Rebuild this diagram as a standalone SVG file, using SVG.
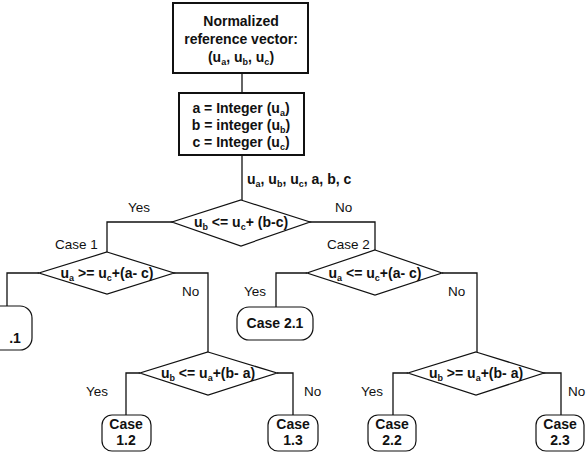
<svg xmlns="http://www.w3.org/2000/svg" width="587" height="456" viewBox="0 0 587 456">
<style>
.t{font-family:"Liberation Sans",Arial,sans-serif;font-size:14px;fill:#111}
.l{font-size:13.5px}
.b{font-weight:bold}
.s{font-size:9px}
.box{fill:#fff;stroke:#111;stroke-width:2}
.dia{fill:#fff;stroke:#111;stroke-width:1.2}
.term{fill:#fff;stroke:#111;stroke-width:1.2}
.c{fill:none;stroke:#111;stroke-width:1.3}
</style>
<rect width="587" height="456" fill="#fff"/>
<g id="connectors">
<path class="c" d="M242,73V93"/>
<path class="c" d="M242,155V200"/>
<path class="c" d="M173,222H107V252"/>
<path class="c" d="M309,222H375V250"/>
<path class="c" d="M39,273H7V306"/>
<path class="c" d="M173,273H208V352"/>
<path class="c" d="M307,273H276V307"/>
<path class="c" d="M442,273H477V352"/>
<path class="c" d="M140,373H126V415"/>
<path class="c" d="M277,373H293V415"/>
<path class="c" d="M408,373H393V415"/>
<path class="c" d="M543,373H561V415"/>
<text class="t b" x="247" y="184">u<tspan class="s" dy="3">a</tspan><tspan dy="-3">, u</tspan><tspan class="s" dy="3">b</tspan><tspan dy="-3">, u</tspan><tspan class="s" dy="3">c</tspan><tspan dy="-3">, a, b, c</tspan></text>
<text class="t l" x="128" y="212">Yes</text>
<text class="t l" x="335" y="212">No</text>
<text class="t l" x="55" y="249">Case 1</text>
<text class="t l" x="327" y="249">Case 2</text>
<text class="t l" x="182" y="296">No</text>
<text class="t l" x="244" y="296">Yes</text>
<text class="t l" x="448" y="296">No</text>
<text class="t l" x="86" y="396">Yes</text>
<text class="t l" x="304" y="396">No</text>
<text class="t l" x="361" y="396">Yes</text>
<text class="t l" x="568" y="396">No</text>
</g>
<g id="n-input">
<rect class="box" x="173" y="3" width="135" height="70" stroke-width="2.5"/>
<text class="t b" x="241" y="26" text-anchor="middle">Normalized</text>
<text class="t b" x="241" y="44" text-anchor="middle">reference vector:</text>
<text class="t b" x="241" y="62" text-anchor="middle">(u<tspan class="s" dy="3">a</tspan><tspan dy="-3">, u</tspan><tspan class="s" dy="3">b</tspan><tspan dy="-3">, u</tspan><tspan class="s" dy="3">c</tspan><tspan dy="-3">)</tspan></text>
</g>
<g id="n-integer">
<rect class="box" x="179" y="93" width="125" height="62"/>
<text class="t b" x="241" y="113" text-anchor="middle">a = Integer (u<tspan class="s" dy="3">a</tspan><tspan dy="-3">)</tspan></text>
<text class="t b" x="241" y="130" text-anchor="middle">b = integer (u<tspan class="s" dy="3">b</tspan><tspan dy="-3">)</tspan></text>
<text class="t b" x="241" y="147" text-anchor="middle">c = Integer (u<tspan class="s" dy="3">c</tspan><tspan dy="-3">)</tspan></text>
</g>
<g id="d1">
<polygon class="dia" points="241,200 310,222 241,246 172,222"/>
<text class="t b" x="241" y="227" text-anchor="middle">u<tspan class="s" dy="3">b</tspan><tspan dy="-3"> &lt;= u</tspan><tspan class="s" dy="3">c</tspan><tspan dy="-3">+ (b-c)</tspan></text>
</g>
<g id="d2">
<polygon class="dia" points="107,252 174,273 107,294 39,273"/>
<text class="t b" x="107" y="278" text-anchor="middle">u<tspan class="s" dy="3">a</tspan><tspan dy="-3"> &gt;= u</tspan><tspan class="s" dy="3">c</tspan><tspan dy="-3">+(a- c)</tspan></text>
</g>
<g id="d3">
<polygon class="dia" points="375,250 442,273 375,295 307,273"/>
<text class="t b" x="375" y="278" text-anchor="middle">u<tspan class="s" dy="3">a</tspan><tspan dy="-3"> &lt;= u</tspan><tspan class="s" dy="3">c</tspan><tspan dy="-3">+(a- c)</tspan></text>
</g>
<g id="d4">
<polygon class="dia" points="208,352 277,373 208,395 140,373"/>
<text class="t b" x="208" y="378" text-anchor="middle">u<tspan class="s" dy="3">b</tspan><tspan dy="-3"> &lt;= u</tspan><tspan class="s" dy="3">a</tspan><tspan dy="-3">+(b- a)</tspan></text>
</g>
<g id="d5">
<polygon class="dia" points="476,352 544,373 476,395 408,373"/>
<text class="t b" x="476" y="378" text-anchor="middle">u<tspan class="s" dy="3">b</tspan><tspan dy="-3"> &gt;= u</tspan><tspan class="s" dy="3">a</tspan><tspan dy="-3">+(b- a)</tspan></text>
</g>
<g id="case11">
<rect class="term" x="-40" y="306" width="72" height="44" rx="12"/>
<text class="t b" x="15" y="343" text-anchor="middle">.1</text>
</g>
<g id="case21">
<rect class="term" x="237" y="307" width="76" height="33" rx="12"/>
<text class="t b" x="275" y="328" text-anchor="middle">Case 2.1</text>
</g>
<g id="case12">
<rect class="term" x="102" y="415" width="49" height="36" rx="10"/>
<text class="t b" x="126" y="429" text-anchor="middle">Case</text>
<text class="t b" x="126" y="445" text-anchor="middle">1.2</text>
</g>
<g id="case13">
<rect class="term" x="268" y="415" width="50" height="36" rx="10"/>
<text class="t b" x="293" y="429" text-anchor="middle">Case</text>
<text class="t b" x="293" y="445" text-anchor="middle">1.3</text>
</g>
<g id="case22">
<rect class="term" x="368" y="415" width="48" height="36" rx="10"/>
<text class="t b" x="392" y="429" text-anchor="middle">Case</text>
<text class="t b" x="392" y="445" text-anchor="middle">2.2</text>
</g>
<g id="case23">
<rect class="term" x="536" y="415" width="48" height="36" rx="10"/>
<text class="t b" x="560" y="429" text-anchor="middle">Case</text>
<text class="t b" x="560" y="445" text-anchor="middle">2.3</text>
</g>
</svg>
